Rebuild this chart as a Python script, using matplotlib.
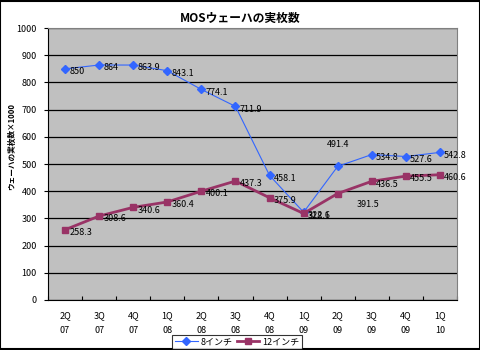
import numpy as np
import matplotlib.pyplot as plt
from matplotlib.patches import Rectangle

plt.rcParams["font.family"] = ["Noto Sans CJK JP", "DejaVu Sans"]

quarters = ["2Q\n07", "3Q\n07", "4Q\n07", "1Q\n08", "2Q\n08", "3Q\n08",
            "4Q\n08", "1Q\n09", "2Q\n09", "3Q\n09", "4Q\n09", "1Q\n10"]
inch8 = [850, 864, 863.9, 843.1, 774.1, 711.9, 458.1, 322.6, 491.4, 534.8, 527.6, 542.8]
inch12 = [258.3, 308.6, 340.6, 360.4, 400.1, 437.3, 375.9, 318.1, 391.5, 436.5, 455.5, 460.6]

fig = plt.figure(figsize=(4.81, 3.5), dpi=100, facecolor="white")
ax = fig.add_axes([0.0998, 0.1429, 0.8503, 0.777])
ax.set_facecolor("#C0C0C0")

x = np.arange(len(quarters))
ax.plot(x, inch8, "-D", color="#3366FF", lw=0.8, ms=4, label="8インチ", zorder=3)
ax.plot(x, inch12, "-s", color="#993366", lw=2, ms=5, label="12インチ", zorder=3)

for i, v in enumerate(inch8):
    if i == 8:
        ax.annotate(f"{v:g}", (i, v), xytext=(0, 16), textcoords="offset points",
                    fontsize=6.5, va="center", ha="center")
    else:
        ax.annotate(f"{v:g}", (i, v), xytext=(3, -2), textcoords="offset points",
                    fontsize=6.5, va="center", ha="left")
for i, v in enumerate(inch12):
    dy = -8 if i == 8 else -2
    dx = 14 if i == 8 else 3
    ax.annotate(f"{v:g}", (i, v), xytext=(dx, dy), textcoords="offset points",
                fontsize=6.5, va="center", ha="left")

ax.set_xlim(-0.5, len(quarters) - 0.5)
ax.set_ylim(0, 1000)
ax.set_yticks(np.arange(0, 1001, 100))
ax.yaxis.grid(True, color="black", lw=0.9)
ax.set_axisbelow(True)
ax.set_xticks(np.arange(-0.5, len(quarters), 1))
ax.set_xticklabels([])
ax.set_xticks(x, minor=True)
ax.set_xticklabels(quarters, minor=True, fontsize=6.5, linespacing=1.8)
ax.tick_params(axis="x", which="minor", length=0, pad=8)
ax.tick_params(axis="x", which="major", direction="in", length=3, width=0.8)
ax.tick_params(axis="y", direction="out", length=3, width=0.8, labelsize=6.5, pad=5)

for s in ["top", "right"]:
    ax.spines[s].set_color("#808080")
for s in ["left", "bottom"]:
    ax.spines[s].set_color("black")

fig.text(0.024, 0.58, "ウェーハの実枚数×1000", fontsize=5.5, fontweight="bold",
         rotation=90, ha="center", va="center")
fig.suptitle("MOSウェーハの実枚数", fontsize=8.5, fontweight="bold", y=0.965)

leg = fig.legend(loc="center", bbox_to_anchor=(0.493, 0.023), ncol=2, fontsize=6.5,
                 frameon=True, fancybox=False, edgecolor="black", borderpad=0.3,
                 handlelength=2.5, columnspacing=0.5, handletextpad=0.3)
leg.get_frame().set_linewidth(0.8)

fig.patches.append(Rectangle((0.001, 0.002), 0.997, 0.995, transform=fig.transFigure,
                             fill=False, edgecolor="black", lw=1.5))

fig.savefig("out.png", dpi=100)
